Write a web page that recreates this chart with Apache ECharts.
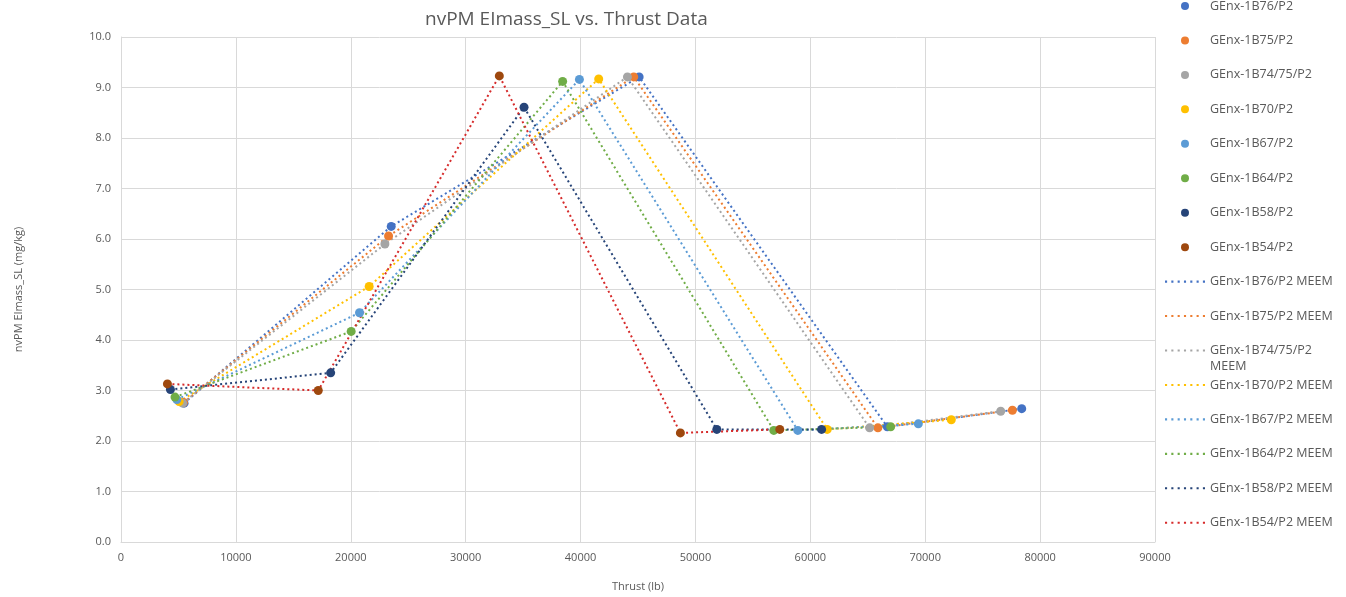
<!DOCTYPE html>
<html>
<head>
<meta charset="utf-8">
<title>nvPM EImass_SL vs. Thrust Data</title>
<script src="https://cdn.jsdelivr.net/npm/echarts@6/dist/echarts.min.js"></script>
<style>
  html, body { margin: 0; padding: 0; background: #fff; }
  #main { width: 1346px; height: 597px; }
</style>
</head>
<body>
<div id="main"></div>
<script>
// engine names, colours of the markers and of the MEEM lines
const engines = ['GEnx-1B76/P2', 'GEnx-1B75/P2', 'GEnx-1B74/75/P2', 'GEnx-1B70/P2',
  'GEnx-1B67/P2', 'GEnx-1B64/P2', 'GEnx-1B58/P2', 'GEnx-1B54/P2'];
const markColors = ['#4472C4', '#ED7D31', '#A5A5A5', '#FFC000', '#5B9BD5', '#70AD47', '#264478', '#9E480E'];
const lineColors = ['#4472C4', '#ED7D31', '#A5A5A5', '#FFC000', '#5B9BD5', '#70AD47', '#264478', '#D62B2B'];

// thrust (lb) and nvPM EImass_SL (mg/kg)
const thrustB76 = [5490, 23520, 45100, 66700, 78400];
const eiB76 = [2.75, 6.25, 9.21, 2.28, 2.64];
const thrustB75 = [5430, 23290, 44630, 65880, 77590];
const eiB75 = [2.76, 6.06, 9.21, 2.26, 2.61];
const thrustB7475 = [5360, 22970, 44080, 65160, 76570];
const eiB7475 = [2.75, 5.90, 9.21, 2.26, 2.59];
const thrustB70 = [5060, 21600, 41580, 61470, 72270];
const eiB70 = [2.78, 5.06, 9.17, 2.23, 2.42];
const thrustB67 = [4860, 20760, 39900, 58910, 69400];
const eiB67 = [2.82, 4.54, 9.16, 2.21, 2.34];
const thrustB64 = [4700, 20035, 38440, 56820, 66990];
const eiB64 = [2.87, 4.17, 9.12, 2.21, 2.28];
const thrustB58 = [4300, 18250, 35080, 51860, 60980];
const eiB58 = [3.02, 3.35, 8.61, 2.23, 2.23];
const thrustB54 = [4040, 17170, 32930, 48690, 57340];
const eiB54 = [3.13, 3.00, 9.23, 2.16, 2.23];

const thrusts = [thrustB76, thrustB75, thrustB7475, thrustB70, thrustB67, thrustB64, thrustB58, thrustB54];
const eis = [eiB76, eiB75, eiB7475, eiB70, eiB67, eiB64, eiB58, eiB54];

const textColor = '#595959';
const font = 'Open Sans';
// dotted legend icon for the MEEM lines
const dotIcon = 'path://M0,0h2v2h-2z M6,0h2v2h-2z M12,0h2v2h-2z M18,0h2v2h-2z M24,0h2v2h-2z M30,0h2v2h-2z M36,0h2v2h-2z';
const wrapped = 'GEnx-1B74/75/P2 MEEM';

function pairs(xs, ys) {
  return xs.map((x, i) => [x, ys[i]]);
}

var lineSeries = engines.map((name, i) => ({
  name: name + ' MEEM',
  type: 'line',
  data: pairs(thrusts[i], eis[i]),
  symbol: 'none',
  z: 2,
  itemStyle: { color: lineColors[i] },
  lineStyle: { color: lineColors[i], width: 2, type: [2, 3], cap: 'butt' }
}));

var scatterSeries = engines.map((name, i) => ({
  name: name,
  type: 'scatter',
  data: pairs(thrusts[i], eis[i]),
  symbol: 'circle',
  symbolSize: 9,
  z: 3,
  itemStyle: { color: markColors[i], opacity: 1 }
}));

var legendItems = engines.map(name => ({ name: name, icon: 'circle' }))
  .concat(engines.map(name => ({ name: name + ' MEEM', icon: dotIcon })));

var option = {
  animation: false,
  backgroundColor: '#fff',
  title: {
    text: 'nvPM EImass_SL vs. Thrust Data',
    left: 420,
    top: 5,
    textStyle: { fontFamily: font, fontSize: 19, fontWeight: 'normal', color: textColor }
  },
  legend: {
    orient: 'vertical',
    left: 1160,
    top: -7.5,
    itemWidth: 40,
    itemHeight: 8,
    itemGap: 17.45,
    data: legendItems,
    // the long name wraps in the original; its second line is drawn below
    formatter: function (name) {
      return name === wrapped ? 'GEnx-1B74/75/P2' : name;
    },
    textStyle: { fontFamily: font, fontSize: 12.5, color: textColor, lineHeight: 17 }
  },
  graphic: [{
    type: 'text',
    x: 1210,
    y: 366,
    silent: true,
    style: { text: 'MEEM', fontFamily: font, fontSize: 12.5, fill: textColor,
      align: 'left', verticalAlign: 'middle' }
  }],
  grid: { left: 121, right: 191, top: 37, bottom: 51 },
  xAxis: {
    type: 'value',
    min: 0,
    max: 90000,
    interval: 10000,
    name: 'Thrust (lb)',
    nameLocation: 'middle',
    nameGap: 39,
    nameTextStyle: { fontFamily: font, fontSize: 11, color: textColor },
    axisLine: { show: true, lineStyle: { color: '#d9d9d9' } },
    axisTick: { show: false },
    axisLabel: { fontFamily: font, fontSize: 11, color: textColor, margin: 10,
      formatter: v => String(v) },
    splitLine: { show: true, lineStyle: { color: '#d9d9d9' } }
  },
  yAxis: {
    type: 'value',
    min: 0,
    max: 10,
    interval: 1,
    name: 'nvPM EImass_SL (mg/kg)',
    nameLocation: 'middle',
    nameGap: 97,
    nameTextStyle: { fontFamily: font, fontSize: 11, color: textColor },
    axisLine: { show: true, lineStyle: { color: '#d9d9d9' } },
    axisTick: { show: false },
    axisLabel: { fontFamily: font, fontSize: 11, color: textColor, margin: 10,
      formatter: v => v.toFixed(1) },
    splitLine: { show: true, lineStyle: { color: '#d9d9d9' } }
  },
  series: lineSeries.concat(scatterSeries)
};

var chart = echarts.init(document.getElementById('main'));
chart.setOption(option);
</script>
</body>
</html>
